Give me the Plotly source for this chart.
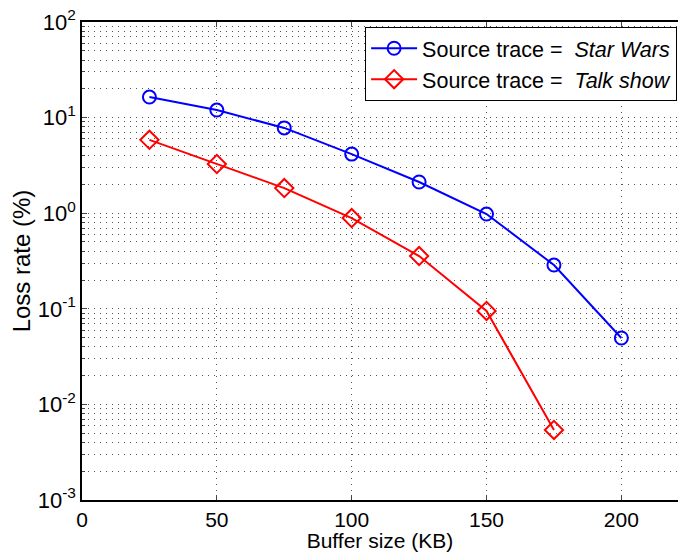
import plotly.graph_objects as go

buffer_kb = [25, 50, 75, 100, 125, 150, 175, 200]
star_wars = [16.4, 12.0, 7.8, 4.15, 2.12, 0.98, 0.287, 0.0495]
talk_buffer_kb = [25, 50, 75, 100, 125, 150, 175]
talk_show = [5.85, 3.27, 1.83, 0.89, 0.356, 0.095, 0.0054]

x_ticks = [0, 50, 100, 150, 200]
y_decades = [-3, -2, -1, 0, 1, 2]
y_tickvals = [10.0 ** e for e in y_decades]
y_ticktext = [f"10<sup>{e}</sup>" for e in y_decades]
y_minor = [k * 10.0 ** e for e in y_decades[:-1] for k in range(2, 10)]

FONT = "Liberation Sans"
GRIDC = "#555555"
DASH = "1px,5px"

fig = go.Figure()
fig.add_trace(go.Scatter(
    x=buffer_kb, y=star_wars, mode="lines+markers",
    name="Source trace =  <i>Star Wars</i>",
    line=dict(color="#0000ff", width=2),
    marker=dict(symbol="circle-open", size=13, color="#0000ff", line=dict(width=2)),
))
fig.add_trace(go.Scatter(
    x=talk_buffer_kb, y=talk_show, mode="lines+markers",
    name="Source trace =  <i>Talk show</i>",
    line=dict(color="#ff0000", width=2),
    marker=dict(symbol="diamond-open", size=14, color="#ff0000", line=dict(width=2)),
))

grid = dict(showgrid=True, gridcolor=GRIDC, griddash=DASH, gridwidth=1)

fig.update_layout(
    width=678, height=552,
    margin=dict(l=82, r=0, t=22, b=52),
    paper_bgcolor="white", plot_bgcolor="white",
    font=dict(family=FONT, size=21, color="black"),
    showlegend=True,
    legend=dict(
        x=0.475, y=0.99, xanchor="left", yanchor="top",
        bgcolor="white", bordercolor="black", borderwidth=1,
        font=dict(family=FONT, size=21.5), tracegroupgap=0, itemwidth=46,
    ),
    xaxis=dict(
        range=[0, 221], tickvals=x_ticks, ticks="inside", ticklen=5,
        showline=True, linecolor="black", linewidth=1.5, mirror="ticks",
        zeroline=False, tickfont=dict(family=FONT, size=21),
        title=dict(text="Buffer size (KB)", standoff=1, font=dict(family=FONT, size=21)),
        **grid,
    ),
    yaxis=dict(
        type="log", range=[-3, 2], tickvals=y_tickvals, ticktext=y_ticktext,
        ticks="inside", ticklen=5, showline=True, linecolor="black", linewidth=1.5,
        mirror=False, zeroline=False, tickfont=dict(family=FONT, size=22),
        title=dict(text="Loss rate (%)", standoff=0, font=dict(family=FONT, size=24)),
        minor=dict(tickvals=y_minor, ticks="inside", ticklen=3, showgrid=True,
                   gridcolor=GRIDC, griddash=DASH, gridwidth=1),
        **grid,
    ),
)

fig.write_html("out.html")
